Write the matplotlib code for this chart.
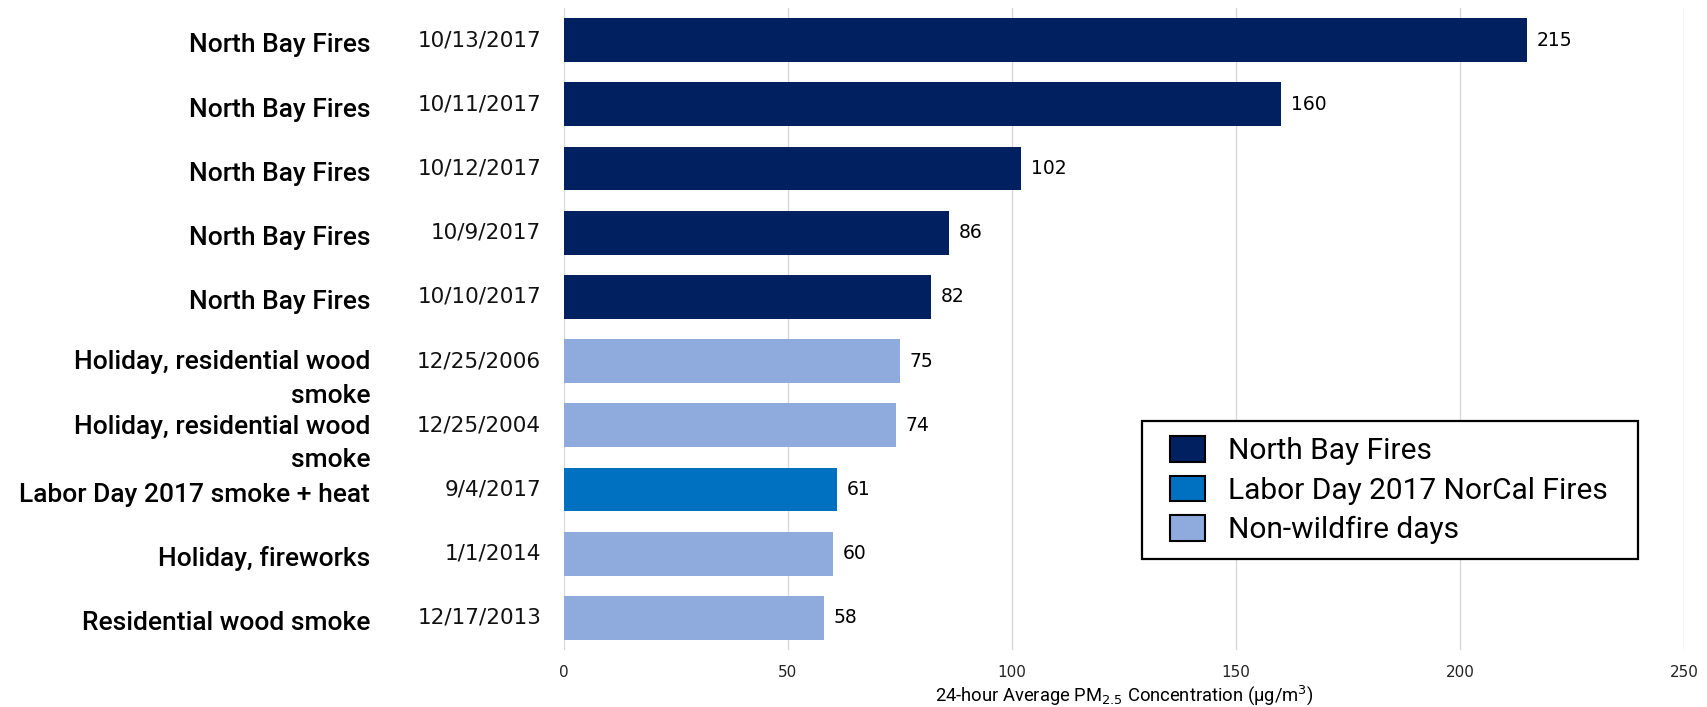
import matplotlib
matplotlib.use("Agg")
import matplotlib.pyplot as plt
from matplotlib.patches import Patch, Rectangle

# ---- data ----
labels = ["North Bay Fires", "North Bay Fires", "North Bay Fires", "North Bay Fires",
          "North Bay Fires", "Holiday, residential wood\nsmoke",
          "Holiday, residential wood\nsmoke", "Labor Day 2017 smoke + heat",
          "Holiday, fireworks", "Residential wood smoke"]
dates = ["10/13/2017", "10/11/2017", "10/12/2017", "10/9/2017", "10/10/2017",
         "12/25/2006", "12/25/2004", "9/4/2017", "1/1/2014", "12/17/2013"]
values = [215, 160, 102, 86, 82, 75, 74, 61, 60, 58]
groups = ["North Bay Fires"] * 5 + ["Non-wildfire days"] * 2 + \
         ["Labor Day 2017 NorCal Fires"] + ["Non-wildfire days"] * 2
legend_order = ["North Bay Fires", "Labor Day 2017 NorCal Fires", "Non-wildfire days"]
group_colors = {"North Bay Fires": "#002060",
                "Labor Day 2017 NorCal Fires": "#0070C0",
                "Non-wildfire days": "#8FAADC"}
xticks = [0, 50, 100, 150, 200, 250]

W, H = 1708, 707
fig = plt.figure(figsize=(W / 100, H / 100), dpi=100)
ax = fig.add_axes([564 / W, 1 - 650 / H, (1684 - 564) / W, (650 - 8) / H])

ypos = list(range(len(values)))
ax.barh(ypos, values, height=0.68, color=[group_colors[g] for g in groups], zorder=3)
ax.set_ylim(len(values) - 0.5, -0.5)
ax.set_xlim(0, 250)
ax.set_xticks(xticks)
ax.set_xticklabels([str(t) for t in xticks], fontsize=11, family="DejaVu Sans", color="#222222")
ax.tick_params(axis="x", length=0, pad=10.5)
ax.set_yticks([])
for s in ax.spines.values():
    s.set_visible(False)
ax.grid(axis="x", color="#d9d9d9", linewidth=1.0, zorder=0)
ax.set_axisbelow(True)

ax.set_xlabel(r"24-hour Average PM$_{2.5}$ Concentration (µg/m$^{3}$)",
              fontsize=13.2, family="Roboto", labelpad=2.5)

for y, v, d, lab in zip(ypos, values, dates, labels):
    ax.annotate(str(v), xy=(v, y), xytext=(7, 0), textcoords="offset points",
                va="center", ha="left", fontsize=13.5, family="DejaVu Sans")
    ax.annotate(d, xy=(0, y), xycoords=("axes fraction", "data"), xytext=(-16.5, 0),
                textcoords="offset points", va="center", ha="right",
                fontsize=15.5, family="DejaVu Sans", color="#111111")
    lines = lab.split("\n")
    shift = -3.8 if len(lines) == 1 else -1.0
    for k, line in enumerate(lines):
        ax.annotate(line, xy=(0, y), xycoords=("axes fraction", "data"),
                    xytext=(-139.5, shift - 23.8 * k), textcoords="offset points",
                    va="center", ha="right", fontsize=19, family="Roboto",
                    weight="medium")

# legend frame
fig.patches.append(Rectangle((1142 / W, 1 - 559 / H), (1638 - 1142) / W, (559 - 421) / H,
                             transform=fig.transFigure, facecolor="white",
                             edgecolor="black", linewidth=1.6, zorder=5))
handles = [Patch(facecolor=group_colors[g], edgecolor="black", linewidth=1.5)
           for g in legend_order]
leg = fig.legend(handles, legend_order, loc="upper left",
                 bbox_to_anchor=(1170 / W, 1 - 436 / H),
                 prop={"family": "Roboto", "size": 21.5},
                 frameon=False, borderaxespad=0, borderpad=0,
                 handlelength=1.17, handleheight=0.94, handletextpad=0.77,
                 labelspacing=0.35)
leg.set_zorder(6)

fig.savefig("out.png", dpi=100)
